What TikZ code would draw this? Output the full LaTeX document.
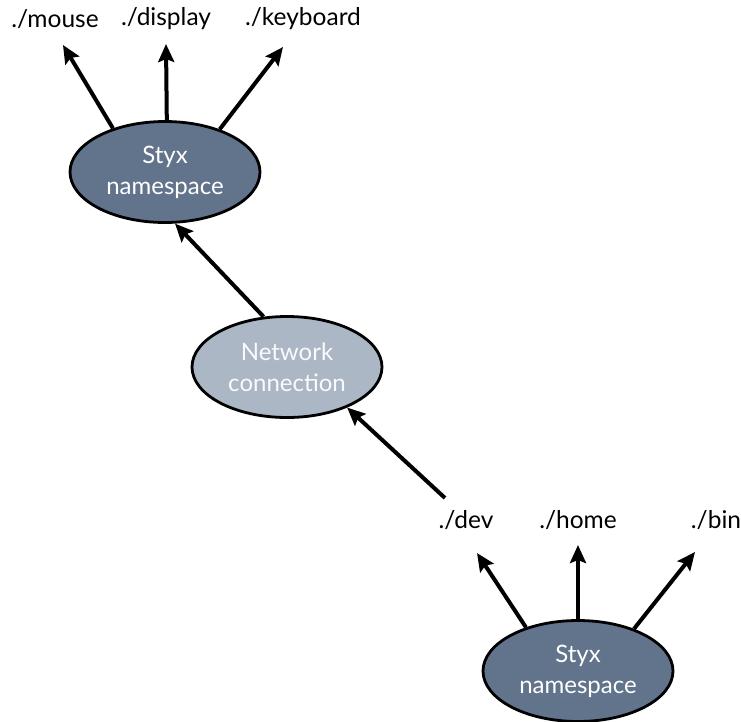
\documentclass[tikz,border=0pt]{standalone}
\usepackage{fontspec}
\setmainfont{Lato}
\usetikzlibrary{arrows.meta,shapes.geometric}
\definecolor{nsfill}{RGB}{98,115,140}
\definecolor{netfill}{RGB}{172,183,198}
\tikzset{
  blob/.style={ellipse, draw=black, line width=2.8pt, minimum width=190pt,
    minimum height=101pt, inner sep=0pt, align=center, text=white,
    font=\fontsize{24}{31}\selectfont},
  nsblob/.style={blob, fill=nsfill},
  netblob/.style={blob, fill=netfill, text=white!96!gray},
  fname/.style={font=\fontsize{24.5}{28}\selectfont, inner sep=0pt},
  arr/.style={line width=4pt, -{Stealth[length=18pt, width=16pt, inset=3pt]}}
}
\begin{document}
\begin{tikzpicture}[x=1pt, y=-1pt]
\useasboundingbox (0,0) rectangle (741,721);

% namespace nodes and the connection between them
\node[nsblob]  (top) at (165,172) {Styx\\namespace};
\node[netblob] (net) at (287,367) {Network\\connection};
\node[nsblob]  (bot) at (578,671) {Styx\\namespace};

% file names exported by each namespace
\node[fname] (mouse)    at (55,19)  {./mouse};
\node[fname] (display)  at (166,19) {./display};
\node[fname] (keyboard) at (303,19) {./keyboard};
\node[fname] (dev)  at (466,520) {./dev};
\node[fname] (home) at (578,520) {./home};
\node[fname] (bin)  at (716,520) {./bin};

% arrow tips just under the file names
\coordinate (tMouse)    at (63,45);
\coordinate (tDisplay)  at (166,44);
\coordinate (tKeyboard) at (283,47);
\coordinate (tDev)  at (477,553);
\coordinate (tHome) at (578,545);
\coordinate (tBin)  at (695,552);
\coordinate (devFoot) at (445,498);

\draw[arr] (top.140) -- (tMouse);
\draw[arr] (top.88)  -- (tDisplay);
\draw[arr] (top.38)  -- (tKeyboard);

\draw[arr] (net.115) -- (top.-79);
\draw[arr] (devFoot) -- (net.-34);

\draw[arr] (bot.140) -- (tDev);
\draw[arr] (bot.90)  -- (tHome);
\draw[arr] (bot.37)  -- (tBin);
\end{tikzpicture}
\end{document}
